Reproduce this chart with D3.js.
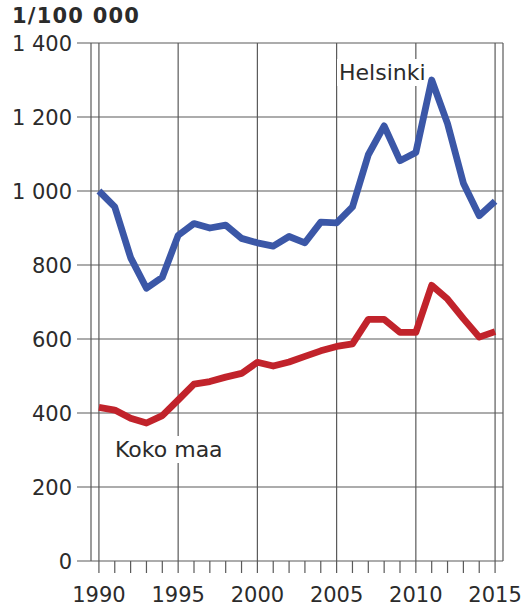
<!DOCTYPE html>
<html>
<head>
<meta charset="utf-8">
<script src="https://cdn.jsdelivr.net/npm/d3@7"></script>
<style>
  html, body { margin: 0; padding: 0; background: #fff; }
  svg { display: block; font-family: "DejaVu Sans", Verdana, sans-serif; }
</style>
</head>
<body>
<svg id="chart" width="523" height="610"></svg>
<script>
// Incidence per 100 000 inhabitants, 1990–2015
const years = d3.range(1990, 2016);
const helsinki = [1000, 957, 820, 737, 767, 880, 912, 900, 908, 872, 860, 851, 877, 860, 916, 914, 957, 1098, 1176, 1082, 1104, 1300, 1182, 1021, 933, 972];
const kokoMaa  = [415, 408, 386, 373, 393, 435, 478, 485, 497, 507, 537, 527, 538, 553, 568, 580, 587, 653, 653, 618, 618, 745, 708, 655, 605, 620];
const yTicks = [0, 200, 400, 600, 800, 1000, 1200, 1400];
const xLabelYears = [1990, 1995, 2000, 2005, 2010, 2015];
const unitLabel = "1/100 000";
const seriesNames = ["Helsinki", "Koko maa"];

const svg = d3.select("#chart");
const plot = { left: 91, right: 503, top: 43, bottom: 561 };

const x = d3.scaleLinear().domain([1989.5, 2015.5]).range([plot.left, plot.right]);
const y = d3.scaleLinear().domain([0, 1400]).range([plot.bottom, plot.top]);

const gridColor = "#5a5a5a";
const textColor = "#2b2b2b";
const fmt = v => v >= 1000 ? d3.format(",")(v).replace(",", " ") : String(v);

// Horizontal grid lines with left-hand tick stubs
svg.append("g").selectAll("line").data(yTicks).join("line")
  .attr("x1", plot.left - 14).attr("x2", plot.right)
  .attr("y1", d => y(d)).attr("y2", d => y(d))
  .attr("stroke", gridColor).attr("stroke-width", 1.2);

// Frame sides
svg.append("line").attr("x1", plot.left).attr("x2", plot.left).attr("y1", plot.top).attr("y2", plot.bottom)
  .attr("stroke", gridColor).attr("stroke-width", 1.2);
svg.append("line").attr("x1", plot.right).attr("x2", plot.right).attr("y1", plot.top).attr("y2", plot.bottom)
  .attr("stroke", gridColor).attr("stroke-width", 1.2);

// Vertical grid lines every five years
svg.append("g").selectAll("line").data(xLabelYears).join("line")
  .attr("x1", d => x(d)).attr("x2", d => x(d))
  .attr("y1", plot.top).attr("y2", plot.bottom)
  .attr("stroke", gridColor).attr("stroke-width", 1.2);

// Yearly ticks below the baseline
svg.append("g").selectAll("line").data(years).join("line")
  .attr("x1", d => x(d)).attr("x2", d => x(d))
  .attr("y1", plot.bottom).attr("y2", plot.bottom + 12)
  .attr("stroke", gridColor).attr("stroke-width", 1.2);

// Y labels
svg.append("g").selectAll("text").data(yTicks).join("text")
  .attr("x", 72).attr("y", d => y(d) + 7.5)
  .attr("text-anchor", "end")
  .attr("font-size", 21).attr("fill", textColor)
  .text(fmt);

// X labels
svg.append("g").selectAll("text").data(xLabelYears).join("text")
  .attr("x", d => x(d)).attr("y", 602)
  .attr("text-anchor", "middle")
  .attr("font-size", 21).attr("fill", textColor)
  .text(d => d);

// Unit title
svg.append("text").attr("x", 12).attr("y", 23)
  .attr("font-size", 21).attr("font-weight", "bold").attr("fill", textColor)
  .attr("letter-spacing", 1.2)
  .text(unitLabel);

// Series labels with white backing
function seriesLabel(txt, xPos, yBase) {
  const g = svg.append("g");
  const t = g.append("text").attr("x", xPos).attr("y", yBase)
    .attr("font-size", 22).attr("fill", textColor).text(txt);
  const bb = t.node().getBBox();
  g.insert("rect", "text")
    .attr("x", bb.x - 2).attr("y", bb.y - 1)
    .attr("width", bb.width + 4).attr("height", bb.height + 2)
    .attr("fill", "#fff");
}

// Lines
const line = d3.line().x((d, i) => x(years[i])).y(d => y(d)).curve(d3.curveLinear);
const series = [
  { name: seriesNames[0], values: helsinki, color: "#3b57a7" },
  { name: seriesNames[1], values: kokoMaa, color: "#c1232b" }
];

seriesLabel(seriesNames[0], 339, 80);
seriesLabel(seriesNames[1], 115, 457);

svg.append("g").selectAll("path").data(series).join("path")
  .attr("d", d => line(d.values))
  .attr("fill", "none")
  .attr("stroke", d => d.color)
  .attr("stroke-width", 6.8)
  .attr("stroke-linejoin", "round")
  .attr("stroke-linecap", "butt");
</script>
</body>
</html>
